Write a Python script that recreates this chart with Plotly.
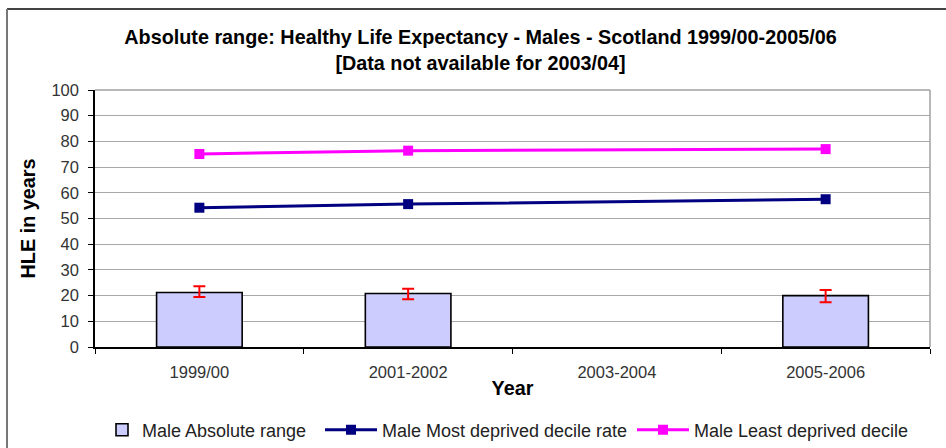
import plotly.graph_objects as go

categories = ["1999/00", "2001-2002", "2003-2004", "2005-2006"]
absolute_range = [21.2, 20.8, None, 20.0]
err_plus = [2.4, 1.9, 0, 2.2]
err_minus = [1.7, 2.2, 0, 2.6]
most_deprived = [54.2, 55.6, None, 57.5]
least_deprived = [75.1, 76.4, None, 77.0]
y_ticks = list(range(0, 101, 10))

FONT = "Liberation Sans, Arial, sans-serif"

fig = go.Figure()
fig.add_trace(go.Bar(
    x=categories, y=absolute_range, name="Male Absolute range",
    width=0.41, legend="legend",
    marker=dict(color="#CCCCFF", line=dict(color="black", width=1.6)),
    error_y=dict(type="data", array=err_plus, arrayminus=err_minus,
                 symmetric=False, color="#FF0000", thickness=2, width=6),
))
fig.add_trace(go.Scatter(
    x=categories, y=most_deprived, name="Male Most deprived decile rate",
    mode="lines+markers", connectgaps=True, legend="legend2",
    line=dict(color="#000080", width=3),
    marker=dict(symbol="square", size=10, color="#000080"),
))
fig.add_trace(go.Scatter(
    x=categories, y=least_deprived, name="Male Least deprived decile",
    mode="lines+markers", connectgaps=True, legend="legend3",
    line=dict(color="#FF00FF", width=3),
    marker=dict(symbol="square", size=10, color="#FF00FF"),
))

L, R, T, B = 95, 16, 90, 101
PW, PH = 946 - L - R, 448 - T - B


def px_x(p):
    return (p - L) / PW


def px_y(p):
    return (T + PH - p) / PH


LEG_Y = px_y(430)
leg_common = dict(orientation="h", xanchor="left", yanchor="middle", y=LEG_Y,
                  font=dict(family=FONT, size=18, color="#222"),
                  bgcolor="rgba(0,0,0,0)", borderwidth=0)

fig.update_layout(
    width=946, height=448,
    margin=dict(l=L, r=R, t=T, b=B, autoexpand=False),
    paper_bgcolor="white", plot_bgcolor="white",
    font=dict(family=FONT, color="black", size=16),
    title=dict(
        text="Absolute range: Healthy Life Expectancy - Males - Scotland 1999/00-2005/06<br>[Data not available for 2003/04]",
        x=px_x(480.5), xref="paper", xanchor="center",
        y=1 - 44 / 448, yref="container", yanchor="middle",
        font=dict(family=FONT, size=19.8, weight="bold", color="black"),
    ),
    showlegend=True,
    legend=dict(x=px_x(102), itemwidth=30, **leg_common),
    legend2=dict(x=px_x(320), itemwidth=52, **leg_common),
    legend3=dict(x=px_x(632), itemwidth=52, **leg_common),
)

fig.update_xaxes(
    type="category", categoryorder="array", categoryarray=categories,
    range=[-0.5, 3.5], automargin=False,
    showline=True, linecolor="black", linewidth=1.5,
    ticks="outside", ticklen=5, tickcolor="black", tickson="boundaries",
    ticklabelstandoff=9,
    tickfont=dict(family=FONT, size=16.5, color="#333"),
    showgrid=False,
    title=dict(text="Year", font=dict(family=FONT, size=19.8, weight="bold"), standoff=2),
)
fig.update_yaxes(
    range=[0, 100], tickvals=y_ticks, automargin=False,
    showline=True, linecolor="black", linewidth=1.5,
    ticks="outside", ticklen=5, tickcolor="black",
    ticklabelstandoff=6,
    tickfont=dict(family=FONT, size=16.5, color="#333"),
    showgrid=True, gridcolor="#A8A8A8", gridwidth=1,
    zeroline=False,
    title=dict(text="HLE in years", font=dict(family=FONT, size=19.8, weight="bold"), standoff=10),
)

# plot-area border (top / right) in grey
fig.add_shape(type="line", xref="paper", yref="paper", x0=1, x1=1, y0=0, y1=1,
              line=dict(color="#A0A0A0", width=1.5), layer="below")
fig.add_shape(type="line", xref="paper", yref="paper", x0=0, x1=1, y0=1, y1=1,
              line=dict(color="#A0A0A0", width=1.5), layer="below")
# outer chart frame (top and left edges visible)
fx0 = px_x(7)
fy1 = px_y(9)
fig.add_shape(type="line", xref="paper", yref="paper", x0=fx0, x1=px_x(960), y0=fy1, y1=fy1,
              line=dict(color="#444", width=2))
fig.add_shape(type="line", xref="paper", yref="paper", x0=fx0, x1=fx0, y0=fy1, y1=px_y(460),
              line=dict(color="#777", width=2))

fig.write_html("out.html", config={"displayModeBar": False},
               post_script="document.body.style.margin='0';document.body.style.overflow='hidden';")
